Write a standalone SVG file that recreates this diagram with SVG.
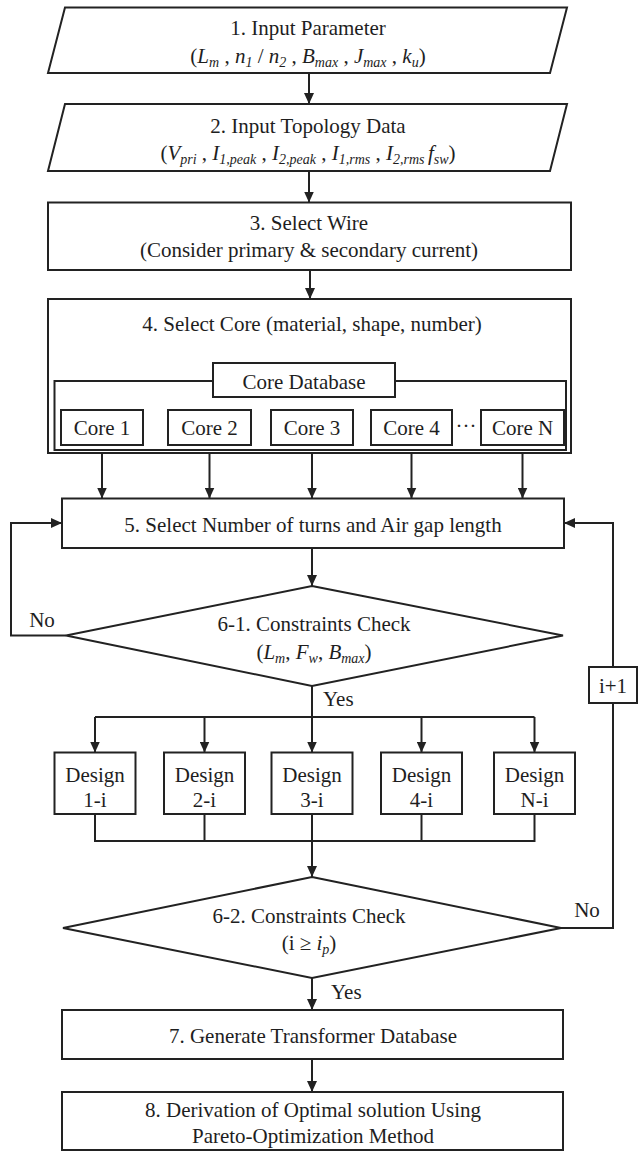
<svg xmlns="http://www.w3.org/2000/svg" width="638" height="1151" viewBox="0 0 638 1151">
<style>
.t{font-family:"Liberation Serif","Times New Roman",serif;font-size:21px;fill:#1e1e1e}
.m{text-anchor:middle}
.i{font-style:italic}
.s{font-size:14px}
.box{fill:#fff;stroke:#222;stroke-width:2}
.ln{fill:none;stroke:#222;stroke-width:2}
</style>
<defs>
<marker id="ah" markerUnits="userSpaceOnUse" markerWidth="11" markerHeight="10" refX="11" refY="5" orient="auto">
<path d="M0,0 L11,5 L0,10 z" fill="#222"/>
</marker>
</defs>
<rect width="638" height="1151" fill="#fff"/>
<g id="connectors">
<line class="ln" x1="309" y1="73" x2="309" y2="104" marker-end="url(#ah)"/>
<line class="ln" x1="309" y1="171" x2="309" y2="202.5" marker-end="url(#ah)"/>
<line class="ln" x1="310" y1="270" x2="310" y2="299" marker-end="url(#ah)"/>
<line class="ln" x1="102" y1="453" x2="102" y2="498.5" marker-end="url(#ah)"/>
<line class="ln" x1="209.5" y1="453" x2="209.5" y2="498.5" marker-end="url(#ah)"/>
<line class="ln" x1="312" y1="453" x2="312" y2="498.5" marker-end="url(#ah)"/>
<line class="ln" x1="411.5" y1="453" x2="411.5" y2="498.5" marker-end="url(#ah)"/>
<line class="ln" x1="522.5" y1="453" x2="522.5" y2="498.5" marker-end="url(#ah)"/>
<line class="ln" x1="312" y1="548" x2="312" y2="586" marker-end="url(#ah)"/>
<polyline class="ln" points="66,635.5 11,635.5 11,523 62,523" marker-end="url(#ah)"/>
<polyline class="ln" points="561,928 613,928 613,523 564,523" marker-end="url(#ah)"/>
<line class="ln" x1="312" y1="686" x2="312" y2="717"/>
<line class="ln" x1="95" y1="717" x2="534.5" y2="717"/>
<line class="ln" x1="95" y1="717" x2="95" y2="752.5" marker-end="url(#ah)"/>
<line class="ln" x1="204.5" y1="717" x2="204.5" y2="752.5" marker-end="url(#ah)"/>
<line class="ln" x1="312" y1="717" x2="312" y2="752.5" marker-end="url(#ah)"/>
<line class="ln" x1="421.5" y1="717" x2="421.5" y2="752.5" marker-end="url(#ah)"/>
<line class="ln" x1="534.5" y1="717" x2="534.5" y2="752.5" marker-end="url(#ah)"/>
<polyline class="ln" points="95,814 95,841 534.5,841 534.5,814"/>
<line class="ln" x1="204.5" y1="814" x2="204.5" y2="841"/>
<line class="ln" x1="421.5" y1="814" x2="421.5" y2="841"/>
<line class="ln" x1="312" y1="814" x2="312" y2="877" marker-end="url(#ah)"/>
<line class="ln" x1="312" y1="978" x2="312" y2="1010" marker-end="url(#ah)"/>
<line class="ln" x1="312" y1="1059" x2="312" y2="1092" marker-end="url(#ah)"/>
<text class="t m" x="42" y="627">No</text>
<text class="t m" x="587" y="917">No</text>
<text class="t" x="323" y="706">Yes</text>
<text class="t" x="331" y="999">Yes</text>
</g>
<g id="inc">
<rect class="box" x="589" y="667" width="48" height="36"/>
<text class="t m" x="613" y="693">i+1</text>
</g>
<g id="n1">
<polygon class="box" points="65,7.5 567,7.5 550,73 48,73"/>
<text class="t m" x="308" y="35">1. Input Parameter</text>
<text class="t m" x="308" y="63">(<tspan class="i">L</tspan><tspan class="i s" dy="4">m</tspan><tspan dy="-4"> , </tspan><tspan class="i">n</tspan><tspan class="i s" dy="4">1</tspan><tspan dy="-4"> / </tspan><tspan class="i">n</tspan><tspan class="i s" dy="4">2</tspan><tspan dy="-4"> , </tspan><tspan class="i">B</tspan><tspan class="i s" dy="4">max</tspan><tspan dy="-4"> , </tspan><tspan class="i">J</tspan><tspan class="i s" dy="4">max</tspan><tspan dy="-4"> , </tspan><tspan class="i">k</tspan><tspan class="i s" dy="4">u</tspan><tspan dy="-4">)</tspan></text>
</g>
<g id="n2">
<polygon class="box" points="65,104 567,104 550,171 48,171"/>
<text class="t m" x="308" y="133">2. Input Topology Data</text>
<text class="t m" x="308" y="160">(<tspan class="i">V</tspan><tspan class="i s" dy="4">pri</tspan><tspan dy="-4"> , </tspan><tspan class="i">I</tspan><tspan class="i s" dy="4">1,peak</tspan><tspan dy="-4"> , </tspan><tspan class="i">I</tspan><tspan class="i s" dy="4">2,peak</tspan><tspan dy="-4"> , </tspan><tspan class="i">I</tspan><tspan class="i s" dy="4">1,rms</tspan><tspan dy="-4"> , </tspan><tspan class="i">I</tspan><tspan class="i s" dy="4">2,rms </tspan><tspan class="i" dy="-4">f</tspan><tspan class="i s" dy="4">sw</tspan><tspan dy="-4">)</tspan></text>
</g>
<g id="n3">
<rect class="box" x="48" y="202.5" width="523" height="67.5"/>
<text class="t m" x="309" y="230">3. Select Wire</text>
<text class="t m" x="309" y="257">(Consider primary &amp; secondary current)</text>
</g>
<g id="n4">
<rect class="box" x="48" y="299" width="523" height="154"/>
<rect class="box" x="54.5" y="381" width="511.5" height="69"/>
<text class="t m" x="312" y="331">4. Select Core (material, shape, number)</text>
</g>
<g id="coredb">
<rect class="box" x="213" y="363" width="182" height="34"/>
<text class="t m" x="304" y="389">Core Database</text>
</g>
<g id="core1"><rect class="box" x="61" y="410" width="82" height="35"/><text class="t m" x="102" y="435">Core 1</text></g>
<g id="core2"><rect class="box" x="168" y="410" width="83" height="35"/><text class="t m" x="209.5" y="435">Core 2</text></g>
<g id="core3"><rect class="box" x="271" y="410" width="82" height="35"/><text class="t m" x="312" y="435">Core 3</text></g>
<g id="core4"><rect class="box" x="371" y="410" width="81" height="35"/><text class="t m" x="411.5" y="435">Core 4</text></g>
<text class="t m" x="466" y="433">···</text>
<g id="coreN"><rect class="box" x="481" y="410" width="83" height="35"/><text class="t m" x="522.5" y="435">Core N</text></g>
<g id="n5">
<rect class="box" x="62" y="498.5" width="502" height="49.5"/>
<text class="t m" x="313" y="532">5. Select Number of turns and Air gap length</text>
</g>
<g id="d61">
<polygon class="box" points="312,586 563,635.5 312,686 66,635.5"/>
<text class="t m" x="314" y="631">6-1. Constraints Check</text>
<text class="t m" x="314" y="659">(<tspan class="i">L</tspan><tspan class="i s" dy="4">m</tspan><tspan dy="-4">, </tspan><tspan class="i">F</tspan><tspan class="i s" dy="4">w</tspan><tspan dy="-4">, </tspan><tspan class="i">B</tspan><tspan class="i s" dy="4">max</tspan><tspan dy="-4">)</tspan></text>
</g>
<g id="des1"><rect class="box" x="54.5" y="752.5" width="81" height="61.5"/><text class="t m" x="95" y="782">Design</text><text class="t m" x="95" y="807">1-i</text></g>
<g id="des2"><rect class="box" x="164" y="752.5" width="81" height="61.5"/><text class="t m" x="204.5" y="782">Design</text><text class="t m" x="204.5" y="807">2-i</text></g>
<g id="des3"><rect class="box" x="271.5" y="752.5" width="81" height="61.5"/><text class="t m" x="312" y="782">Design</text><text class="t m" x="312" y="807">3-i</text></g>
<g id="des4"><rect class="box" x="381" y="752.5" width="81" height="61.5"/><text class="t m" x="421.5" y="782">Design</text><text class="t m" x="421.5" y="807">4-i</text></g>
<g id="desN"><rect class="box" x="494" y="752.5" width="81" height="61.5"/><text class="t m" x="534.5" y="782">Design</text><text class="t m" x="534.5" y="807">N-i</text></g>
<g id="d62">
<polygon class="box" points="312,877 561,928 312,978 63,928"/>
<text class="t m" x="309" y="923">6-2. Constraints Check</text>
<text class="t m" x="309" y="950">(i ≥ <tspan class="i">i</tspan><tspan class="i s" dy="4">p</tspan><tspan dy="-4">)</tspan></text>
</g>
<g id="n7">
<rect class="box" x="62" y="1010" width="501" height="49"/>
<text class="t m" x="313" y="1043">7. Generate Transformer Database</text>
</g>
<g id="n8">
<rect class="box" x="62" y="1092" width="501" height="58"/>
<text class="t m" x="313" y="1117">8. Derivation of Optimal solution Using</text>
<text class="t m" x="313" y="1143">Pareto-Optimization Method</text>
</g>
</svg>
